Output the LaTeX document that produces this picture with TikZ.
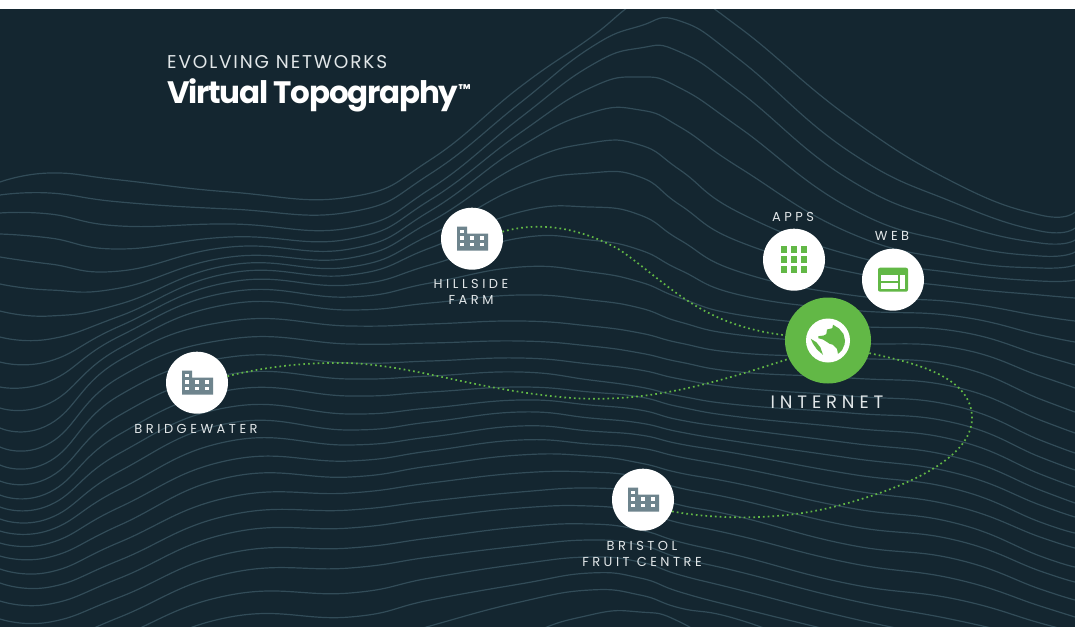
\documentclass[tikz,border=0pt]{standalone}
\usepackage{fontspec}
\usepackage{xcolor}
\usetikzlibrary{positioning}
\setmainfont{Poppins}
\newfontfamily\placefont[LetterSpace=27]{Poppins}
\newfontfamily\kickerfont[LetterSpace=10]{Poppins}
\newfontfamily\titlefont[LetterSpace=-4]{Poppins}
\definecolor{deep-slate}{RGB}{20, 38, 48}
\definecolor{contour-slate}{RGB}{50, 76, 88}
\definecolor{leaf-green}{RGB}{98, 184, 70}
\definecolor{factory-grey}{RGB}{110, 132, 141}
\definecolor{label-white}{RGB}{225, 230, 232}
\tikzset{
  contourline/.style={draw=contour-slate, line width=1.2pt},
  place/.style={circle, fill=white, minimum size=62pt, inner sep=0pt},
  hub/.style={circle, fill=leaf-green, minimum size=86pt, inner sep=0pt},
  placelabel/.style={text=label-white, align=center, inner sep=0pt, xshift=-1pt, font=\placefont\fontsize{13}{16}\selectfont},
  dotlink/.style={draw=leaf-green, line width=1.7pt, dash pattern=on 1.7pt off 3.1pt},
  factory/.pic={
    \fill[factory-grey] (-15,12) -- (-15,-12) -- (-5,-12) -- (-5,-5) -- (16,-5) -- (16,12) -- cycle;
    \foreach \wx/\wy in {-10/-7.3, -10/-0.7, -10/6, 0/-0.7, 0/6, 10/-0.7, 10/6}
      \fill[white] (\wx-1.7,\wy-1.7) rectangle (\wx+1.7,\wy+1.7);
  },
  appgrid/.pic={
    \foreach \gx in {-10,0,10}
      \foreach \gy in {-10,0,10}
        \fill[leaf-green] (\gx-3.4,\gy-3.4) rectangle (\gx+3.4,\gy+3.4);
  },
  webpage/.pic={
    \fill[leaf-green, rounded corners=2pt] (-15,-12) rectangle (15,12);
    \fill[white] (-11.7,-4.3) rectangle (4.7,1.7);
    \fill[white] (-11.7,3.7) rectangle (4.7,9);
    \fill[white] (6.7,-4.3) rectangle (12.3,9);
  },
  globe/.pic={
    \fill[white] (0,0) circle (22);
    \fill[leaf-green] (5,-15.8) -- (4.3,-12.3) -- (-1,-11) -- (-1.7,-6.3) -- (-4.3,-5) -- (-9.7,-4.3) -- (-9.7,-2.3) -- (-5,-1) -- (1.7,3.3) -- (5,4.3) -- (9,8.3) -- (10,13.4) -- (14,9.7) -- (16.5,4) -- (17,0) -- (15.5,-6.5) -- (11,-12) -- cycle;
    \fill[leaf-green] (-17.3,-1.7) -- (-15,3.3) -- (-11,9) -- (-5,14.3) -- (-7.7,6.7) -- (-11.7,1.7) -- cycle;
  }
}

\begin{document}
\begin{tikzpicture}[x=1pt, y=-1pt]
    \useasboundingbox (0,0) rectangle (1075,626);
    \fill[deep-slate] (-5,9) rectangle (1080,900);

    % contour lines, y read off at fixed x columns
    \foreach \ya/\yb/\yc/\yd/\ye/\yf/\yg/\yh/\yi/\yj/\yk/\yl/\ym/\yn/\yo in {
        182/173/180/192/197/160/87/38/0/-8/28/118/183/215/212,
        195/193/202/209/212/174/103/48/26/21/60/152/203/231/228,
        213/214/226/224/228/189/118/66/48/52/92/180/223/243/240,
        234/238/249/237/239/200/133/88/77/88/128/208/243/256/252,
        257/264/271/247/249/211/147/113/110/127/168/233/260/268/265,
        284/290/288/257/258/222/165/143/145/170/213/255/273/281/280,
        311/316/304/265/267/235/187/173/177/205/242/272/287/295/298,
        337/339/316/273/275/248/212/207/215/240/272/295/302/316/321,
        362/361/326/282/285/265/238/240/250/270/295/310/316/335/342,
        387/381/336/292/297/283/267/272/282/298/315/326/331/355/365,
        408/403/348/304/310/303/295/300/308/322/335/343/348/376/388,
        428/424/360/321/326/324/321/326/333/343/353/358/366/399/412,
        447/443/377/339/344/343/341/346/353/362/372/378/387/420/433,
        465/461/395/357/363/361/358/364/370/379/388/396/406/440/453,
        481/477/415/374/379/376/372/380/387/396/405/413/423/457/470,
        495/492/434/390/396/392/387/392/397/407/417/428/440/474/487,
        507/505/453/407/414/408/400/405/410/420/429/443/457/490/503,
        519/518/471/423/430/422/412/418/423/432/442/458/473/505/517,
        531/530/489/441/445/437/426/431/435/444/454/474/489/522/533,
        543/543/507/460/461/451/440/444/448/457/468/490/506/537/548,
        556/557/525/477/477/466/455/456/463/473/484/508/523/556/567,
        569/572/542/497/493/483/473/472/477/488/500/526/540/571/582,
        583/587/560/515/510/501/492/488/493/505/517/545/559/589/600,
        601/604/578/533/528/518/508/506/512/523/536/563/579/606/617,
        619/622/597/553/548/538/527/524/530/542/556/584/599/623/632,
        650/645/617/573/568/557/546/540/545/558/572/600/620/640/650,
        680/670/637/595/593/578/564/557/562/575/590/618/640/660/670,
        710/690/660/617/617/600/584/573/578/592/608/635/660/680/690,
        760/720/700/660/650/626/602/590/595/608/620/660/690/710/720,
        860/830/800/760/760/700/640/615/612/622/660/720/760/790/800}
        \draw[contourline] plot[smooth, tension=0.8] coordinates {(0,\ya) (50,\yb) (120,\yc) (230,\yd) (350,\ye) (430,\yf) (520,\yg) (590,\yh) (640,\yi) (680,\yj) (740,\yk) (850,\yl) (955,\ym) (1040,\yn) (1075,\yo)};
    \fill[white] (-5,-20) rectangle (1080,9);

    % heading
    \node[anchor=base west, inner sep=0pt, text=label-white, font=\kickerfont\fontsize{18.5}{20}\selectfont] (kicker) at (167,68) {EVOLVING NETWORKS};
    \node[anchor=base west, inner sep=0pt, text=white, font=\titlefont\bfseries\fontsize{31}{34}\selectfont] (title) at (167,103) {Virtual Topography\raisebox{9pt}{\fontsize{14}{14}\selectfont ™}};

    % places
    \node[place] (hillside) at (472,238.7) {};
    \node[place] (bridgewater) at (197,382.7) {};
    \node[place] (bristol) at (643,499.7) {};
    \node[place] (apps) at (794,259.7) {};
    \node[place] (web) at (893,279.7) {};
    \node[hub] (internet) at (828,340.5) {};

    \pic at (hillside) {factory};
    \pic at (bridgewater) {factory};
    \pic at (bristol) {factory};
    \pic at (apps) {appgrid};
    \pic at (web) {webpage};
    \pic at (internet) {globe};

    \node[placelabel, below=9.5pt of hillside] (hillsidetext) {HILLSIDE\\FARM};
    \node[placelabel, below=10pt of bridgewater] (bridgewatertext) {BRIDGEWATER};
    \node[placelabel, below=10pt of bristol] (bristoltext) {BRISTOL\\FRUIT CENTRE};
    \node[placelabel, above=7pt of apps] (appstext) {APPS};
    \node[placelabel, above=8pt of web] (webtext) {WEB};
    \node[placelabel, below=12.5pt of internet, font=\placefont\fontsize{18}{20}\selectfont] (internettext) {INTERNET};

    % dotted links
    \draw[dotlink] (hillside.13) .. controls (530,224) and (570,222) .. (620,250) .. controls (670,285) and (700,325) .. (internet.173);
    \draw[dotlink] (bridgewater.12) .. controls (260,368) and (300,362) .. (350,363) .. controls (420,367) and (470,388) .. (560,397) .. controls (640,405) and (710,385) .. (internet.205);
    \draw[dotlink] (internet.-17) .. controls (910,362) and (972,375) .. (972,418) .. controls (972,460) and (900,490) .. (833,507) .. controls (780,520) and (720,520) .. (bristol.-22);
\end{tikzpicture}
\end{document}
